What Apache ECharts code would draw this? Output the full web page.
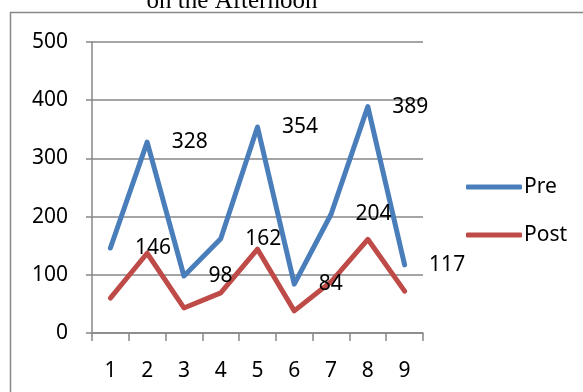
<!DOCTYPE html>
<html>
<head>
<meta charset="utf-8">
<script src="https://cdn.jsdelivr.net/npm/echarts@6/dist/echarts.min.js"></script>
<style>
  html, body { margin: 0; padding: 0; background: #fff; }
  #chart { width: 583px; height: 392px; }
</style>
</head>
<body>
<div id="chart"></div>
<script>
// data
const categories = ['1', '2', '3', '4', '5', '6', '7', '8', '9'];
const preValues = [146, 328, 98, 162, 354, 84, 204, 389, 117];
const postValues = [60, 137, 43, 69, 144, 38, 88, 161, 72];
const titleText = 'on the Afternoon';

const gray = '#878787';
const font = 'Noto Sans';

const chart = echarts.init(document.getElementById('chart'));
chart.setOption({
    animation: false,
    backgroundColor: '#fff',
    graphic: [
        {
            type: 'rect',
            shape: { x: 10.5, y: 12.5, width: 700, height: 500 },
            style: { fill: 'none', stroke: gray, lineWidth: 1.5 },
            silent: true
        },
        {
            type: 'text',
            x: 232,
            y: 1,
            style: {
                text: titleText,
                fontFamily: 'Liberation Serif',
                fontSize: 25,
                fill: '#000',
                align: 'center',
                verticalAlign: 'middle'
            },
            silent: true
        }
    ],
    legend: {
        orient: 'vertical',
        left: 461,
        top: 170,
        icon: 'roundRect',
        itemWidth: 56,
        itemHeight: 5,
        itemGap: 24,
        textStyle: {
            fontFamily: font,
            fontSize: 21,
            lineHeight: 24,
            color: '#000',
            padding: [0, 0, 0, -3]
        },
        data: ['Pre', 'Post']
    },
    grid: {
        left: 92,
        right: 160,
        top: 42,
        bottom: 59
    },
    xAxis: {
        type: 'category',
        data: categories,
        boundaryGap: true,
        axisLine: { lineStyle: { color: gray, width: 1.5 } },
        axisTick: { show: true, length: 8, lineStyle: { color: gray, width: 1.5 } },
        axisLabel: {
            margin: 28,
            fontFamily: font,
            fontSize: 21,
            color: '#000'
        }
    },
    yAxis: {
        type: 'value',
        min: 0,
        max: 500,
        interval: 100,
        axisLine: { show: true, lineStyle: { color: gray, width: 1.5 } },
        axisTick: { show: true, length: 6, lineStyle: { color: gray, width: 1.5 } },
        axisLabel: {
            margin: 24,
            fontFamily: font,
            fontSize: 21,
            color: '#000'
        },
        splitLine: { show: true, lineStyle: { color: gray, width: 1.5 } }
    },
    series: [
        {
            name: 'Pre',
            type: 'line',
            data: preValues,
            symbol: 'circle',
            symbolSize: 1,
            itemStyle: { color: '#4a7ebb' },
            lineStyle: { width: 5, cap: 'round', join: 'round' },
            label: {
                show: true,
                position: 'right',
                distance: 24,
                fontFamily: font,
                fontSize: 21,
                color: '#000'
            },
            z: 3
        },
        {
            name: 'Post',
            type: 'line',
            data: postValues,
            symbol: 'circle',
            symbolSize: 1,
            itemStyle: { color: '#be4b48' },
            lineStyle: { width: 5, cap: 'round', join: 'round' },
            z: 2
        }
    ]
});
</script>
</body>
</html>
